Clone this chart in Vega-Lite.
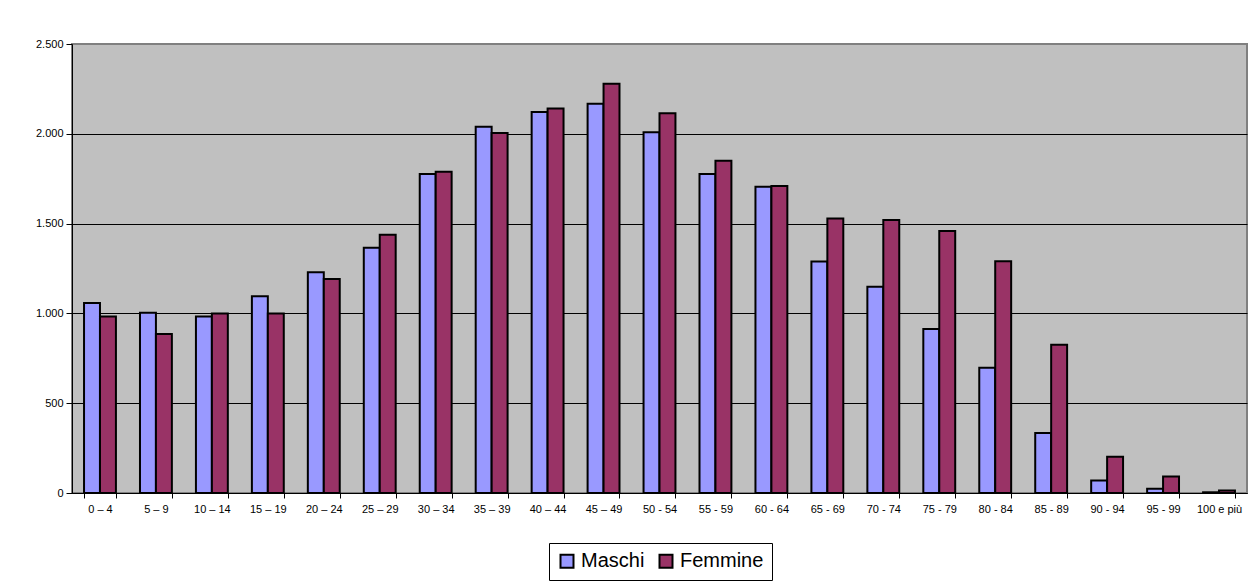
{
  "$schema": "https://vega.github.io/schema/vega-lite/v6.json",
  "width": 1175,
  "height": 449,
  "autosize": {"type": "none"},
  "padding": {"left": 72, "top": 44, "right": 10, "bottom": 88},
  "background": "white",
  "config": {
    "view": {"fill": "#C0C0C0", "stroke": "#808080", "strokeWidth": 2},
    "font": "Liberation Sans"
  },
  "data": {
    "values": [
      {"eta": "0 – 4", "sesso": "Maschi", "v": 1058}, {"eta": "0 – 4", "sesso": "Femmine", "v": 983},
      {"eta": "5 – 9", "sesso": "Maschi", "v": 1004}, {"eta": "5 – 9", "sesso": "Femmine", "v": 885},
      {"eta": "10 – 14", "sesso": "Maschi", "v": 983}, {"eta": "10 – 14", "sesso": "Femmine", "v": 1000},
      {"eta": "15 – 19", "sesso": "Maschi", "v": 1095}, {"eta": "15 – 19", "sesso": "Femmine", "v": 1000},
      {"eta": "20 – 24", "sesso": "Maschi", "v": 1229}, {"eta": "20 – 24", "sesso": "Femmine", "v": 1192},
      {"eta": "25 – 29", "sesso": "Maschi", "v": 1366}, {"eta": "25 – 29", "sesso": "Femmine", "v": 1438},
      {"eta": "30 – 34", "sesso": "Maschi", "v": 1776}, {"eta": "30 – 34", "sesso": "Femmine", "v": 1789},
      {"eta": "35 – 39", "sesso": "Maschi", "v": 2039}, {"eta": "35 – 39", "sesso": "Femmine", "v": 2004},
      {"eta": "40 – 44", "sesso": "Maschi", "v": 2121}, {"eta": "40 – 44", "sesso": "Femmine", "v": 2141},
      {"eta": "45 – 49", "sesso": "Maschi", "v": 2167}, {"eta": "45 – 49", "sesso": "Femmine", "v": 2279},
      {"eta": "50 - 54", "sesso": "Maschi", "v": 2009}, {"eta": "50 - 54", "sesso": "Femmine", "v": 2115},
      {"eta": "55 - 59", "sesso": "Maschi", "v": 1776}, {"eta": "55 - 59", "sesso": "Femmine", "v": 1850},
      {"eta": "60 - 64", "sesso": "Maschi", "v": 1705}, {"eta": "60 - 64", "sesso": "Femmine", "v": 1710},
      {"eta": "65 - 69", "sesso": "Maschi", "v": 1289}, {"eta": "65 - 69", "sesso": "Femmine", "v": 1528},
      {"eta": "70 - 74", "sesso": "Maschi", "v": 1148}, {"eta": "70 - 74", "sesso": "Femmine", "v": 1520},
      {"eta": "75 - 79", "sesso": "Maschi", "v": 913}, {"eta": "75 - 79", "sesso": "Femmine", "v": 1459},
      {"eta": "80 - 84", "sesso": "Maschi", "v": 698}, {"eta": "80 - 84", "sesso": "Femmine", "v": 1291},
      {"eta": "85 - 89", "sesso": "Maschi", "v": 334}, {"eta": "85 - 89", "sesso": "Femmine", "v": 825},
      {"eta": "90 - 94", "sesso": "Maschi", "v": 69}, {"eta": "90 - 94", "sesso": "Femmine", "v": 202},
      {"eta": "95 - 99", "sesso": "Maschi", "v": 23}, {"eta": "95 - 99", "sesso": "Femmine", "v": 92},
      {"eta": "100 e più", "sesso": "Maschi", "v": 4}, {"eta": "100 e più", "sesso": "Femmine", "v": 14}
    ]
  },
  "mark": {"type": "bar", "stroke": "black", "strokeWidth": 2},
  "encoding": {
    "x": {
      "field": "eta", "type": "nominal", "sort": null,
      "scale": {"paddingInner": 0.43, "paddingOuter": 0.215},
      "axis": {
        "title": null, "labelAngle": 0, "labelFontSize": 11, "labelColor": "black",
        "domainColor": "black", "domainWidth": 1, "tickColor": "black", "tickSize": 5,
        "tickBand": "extent", "labelPadding": 5
      }
    },
    "xOffset": {"field": "sesso", "type": "nominal", "sort": ["Maschi", "Femmine"], "scale": {"paddingInner": 0, "paddingOuter": 0}},
    "y": {
      "field": "v", "type": "quantitative",
      "scale": {"domain": [0, 2500], "nice": false},
      "axis": {
        "title": null, "values": [0, 500, 1000, 1500, 2000, 2500],
        "labelExpr": "replace(format(datum.value, ','), ',', '.')",
        "labelFontSize": 11, "labelColor": "black", "labelPadding": 3,
        "domainColor": "black", "domainWidth": 1, "tickColor": "black", "tickSize": 6,
        "grid": true, "gridColor": {"condition": {"test": "datum.value >= 2500", "value": "#808080"}, "value": "black"}, "gridWidth": 1
      }
    },
    "fill": {
      "field": "sesso", "type": "nominal",
      "scale": {"domain": ["Maschi", "Femmine"], "range": ["#9999FF", "#993366"]},
      "legend": {
        "title": null, "orient": "none", "legendX": 477, "legendY": 499, "direction": "horizontal",
        "strokeColor": "black", "fillColor": "white", "padding": 8,
        "symbolType": "square", "symbolSize": 169, "symbolStrokeColor": "black", "symbolStrokeWidth": 2,
        "symbolOpacity": 1,
        "labelFontSize": 20, "labelColor": "black", "labelOffset": 4, "columnPadding": 10,
        "labelFont": "Liberation Sans"
      }
    }
  }
}
